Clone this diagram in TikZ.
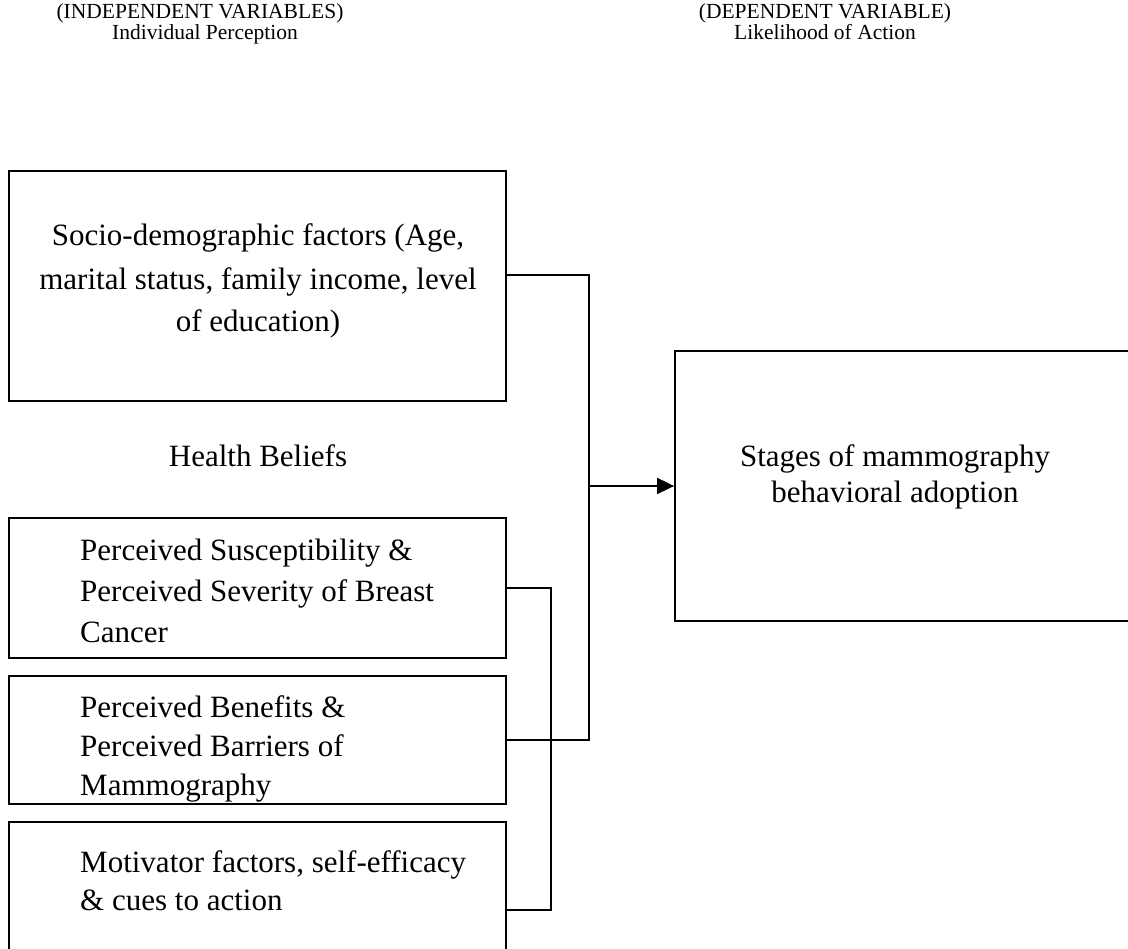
\documentclass[tikz,border=0pt]{standalone}
\usepackage{fontspec}
\setmainfont{Liberation Serif}
\usetikzlibrary{arrows.meta,calc}
\begin{document}
\begin{tikzpicture}[x=1pt,y=-1pt,
  boxshape/.style={draw=black,line width=1.8pt,rectangle,inner sep=0pt},
  txt/.style={inner sep=0pt,font=\fontsize{31}{37}\selectfont},
  ttl/.style={inner sep=0pt,font=\fontsize{21.5}{25}\selectfont},
  conn/.style={line width=1.8pt,draw=black},
  arr/.style={conn,-{Triangle[length=17pt,width=16pt]}}]
\useasboundingbox (0,0) rectangle (1128,949);
\clip (0,0) rectangle (1128,949);
% titles
\node[ttl,anchor=base] (ti1) at (200,19) {(INDEPENDENT VARIABLES)};
\node[ttl,anchor=base] (ti2) at (205,40) {Individual Perception};
\node[ttl,anchor=base] (td1) at (825,19) {(DEPENDENT VARIABLE)};
\node[ttl,anchor=base] (td2) at (825,40) {Likelihood of Action};
% boxes
\node[boxshape,minimum width=497pt,minimum height=230pt] (b1) at (257.5,286) {};
\node[boxshape,minimum width=455pt,minimum height=270pt] (b5) at (902.5,486) {};
\node[boxshape,minimum width=497pt,minimum height=140pt] (b2) at (257.5,588) {};
\node[boxshape,minimum width=497pt,minimum height=128pt] (b3) at (257.5,740) {};
\node[boxshape,minimum width=497pt,minimum height=176pt] (b4) at (257.5,910) {};
% box texts
\node[txt,anchor=base] (t1a) at (258,246) {Socio-demographic factors (Age,};
\node[txt,anchor=base] (t1b) at (258,290) {marital status, family income, level};
\node[txt,anchor=base] (t1c) at (258,332) {of education)};
\node[txt,anchor=base] (t5a) at (895,467) {Stages of mammography};
\node[txt,anchor=base] (t5b) at (895,503) {behavioral adoption};
\node[txt,anchor=base] (hb) at (258,467) {Health Beliefs};
\node[txt,anchor=base west] (t2a) at (80,561) {Perceived Susceptibility \&};
\node[txt,anchor=base west] (t2b) at (80,601) {Perceived Severity of Breast};
\node[txt,anchor=base west] (t2c) at (80,642) {Cancer};
\node[txt,anchor=base west] (t3a) at (80,717) {Perceived Benefits \&};
\node[txt,anchor=base west] (t3b) at (80,756) {Perceived Barriers of};
\node[txt,anchor=base west] (t3c) at (80,795) {Mammography};
\node[txt,anchor=base west] (t4a) at (80,872) {Motivator factors, self-efficacy};
\node[txt,anchor=base west] (t4b) at (80,910) {\& cues to action};
% connectors
\coordinate (s1) at ($(b1.east)+(0,-11)$);
\coordinate (j1) at (589,275);
\coordinate (j2) at (589,740);
\coordinate (j3) at (589,486);
\coordinate (k1) at (551,588);
\coordinate (k2) at (551,910);
\draw[conn] (s1) -- (j1) -- (j2) -- (b3.east);
\draw[arr] (j3) -- (b5.west);
\draw[conn] (b2.east) -- (k1) -- (k2) -- (b4.east);
\end{tikzpicture}
\end{document}
